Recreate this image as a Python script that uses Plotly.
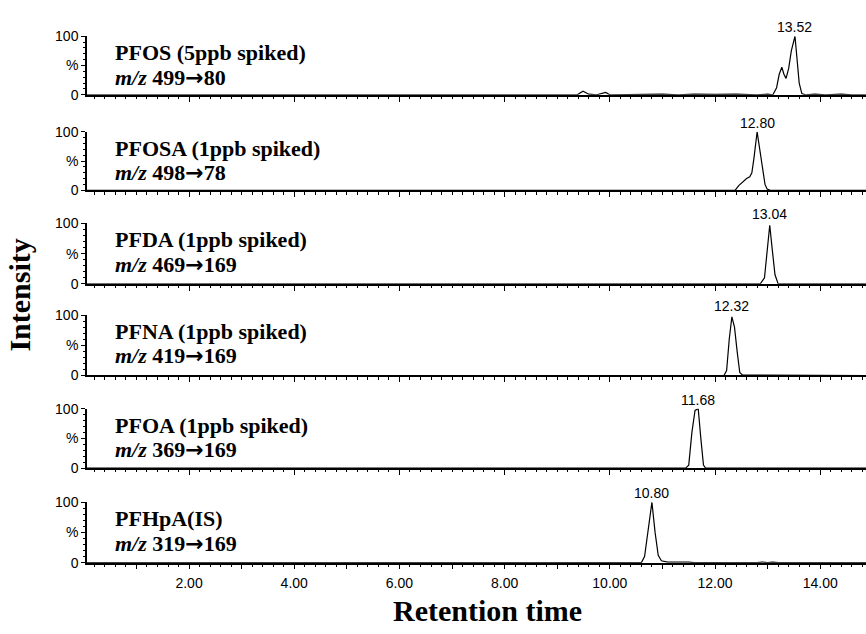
import plotly.graph_objects as go

W, H = 866, 634

# ---- data ----
names = ["PFOS (5ppb spiked)", "PFOSA (1ppb spiked)", "PFDA (1ppb spiked)",
         "PFNA (1ppb spiked)", "PFOA (1ppb spiked)", "PFHpA(IS)"]
transitions = [("499", "80"), ("498", "78"), ("469", "169"), ("419", "169"), ("369", "169"), ("319", "169")]
peak_rt = [13.52, 12.80, 13.04, 12.32, 11.68, 10.80]
peak_labels = ["13.52", "12.80", "13.04", "12.32", "11.68", "10.80"]

pfos_x = [0.06, 1.0, 2.0, 3.0, 4.0, 5.0, 6.0, 6.5, 7.0, 8.0, 9.0, 9.38, 9.49, 9.60, 9.75, 9.85, 9.92, 10.0, 10.5, 11.0,
          11.3, 11.6, 12.0, 12.4, 12.8, 13.0, 13.10, 13.17, 13.22, 13.27, 13.31, 13.35, 13.40, 13.45, 13.52,
          13.56, 13.60, 13.65, 13.72, 13.9, 14.1, 14.4, 14.6, 14.87]
pfos_y = [0, 0, 0, 0, 0, 0, 0, 0.5, 0, 0, 0, 0, 6, 1, 0, 3, 4, 0, 0.5, 1,
          0, 1, 0.5, 1, 0, 1, 0, 12, 35, 47, 35, 28, 45, 75, 100,
          60, 20, 2, 0, 1, 0, 1, 0, 0]

pfosa_x = [0.06, 2.0, 4.0, 6.0, 8.0, 10.0, 12.0, 12.38, 12.45, 12.53, 12.60, 12.66, 12.70, 12.74, 12.80,
           12.85, 12.90, 12.95, 12.99, 13.05, 14.0, 14.87]
pfosa_y = [0, 0, 0, 0, 0, 0, 0, 0, 8, 15, 20, 23, 30, 55, 100,
           70, 40, 10, 2, 0, 0, 0]

pfda_x = [0.06, 2.0, 4.0, 6.0, 8.0, 10.0, 12.0, 12.86, 12.94, 12.99, 13.04, 13.09, 13.14, 13.20, 14.0, 14.87]
pfda_y = [0, 0, 0, 0, 0, 0, 0, 0, 10, 55, 97, 55, 15, 0, 0, 0]

pfna_x = [0.06, 2.0, 4.0, 6.0, 8.0, 10.0, 12.0, 12.17, 12.22, 12.27, 12.32, 12.37, 12.42, 12.47, 12.52,
          12.70, 12.90, 12.95, 14.0, 14.87]
pfna_y = [0, 0, 0, 0, 0, 0, 0, 0, 8, 60, 97, 80, 40, 5, 1,
          1, 1, 0, 0, 0]

pfoa_x = [0.06, 2.0, 4.0, 6.0, 8.0, 10.0, 11.44, 11.50, 11.56, 11.62, 11.68, 11.73, 11.78, 11.82, 13.0, 14.0, 14.87]
pfoa_y = [0, 0, 0, 0, 0, 0, 0, 5, 60, 97, 100, 50, 5, 0, 0, 0, 0]

pfhpa_x = [0.06, 2.0, 4.0, 6.0, 8.0, 10.0, 10.60, 10.66, 10.72, 10.80, 10.86, 10.92, 10.98, 11.1, 11.5, 11.6,
           12.8, 12.9, 13.0, 13.1, 13.2, 13.9, 14.0, 14.1, 14.87]
pfhpa_y = [0, 0, 0, 0, 0, 0, 0, 10, 50, 100, 50, 12, 3, 1, 1, 0,
           0, 1, 0, 1, 0, 0, 1, 0, 0]

xs = [pfos_x, pfosa_x, pfda_x, pfna_x, pfoa_x, pfhpa_x]
ys = [pfos_y, pfosa_y, pfda_y, pfna_y, pfoa_y, pfhpa_y]

x_range = [0.06, 14.87]
x_major = list(range(1, 15))
x_ticktext = ["%.2f" % v if v % 2 == 0 else "" for v in x_major]
y_tickvals = [0, 50, 100]
y_ticktext = ["0", "%", "100"]

# ---- layout (pixel positions of 0 and 100 on each panel) ----
panel_top = [29, 127, 221, 315, 411, 507]
panel_zero = [89, 187, 283, 377, 472, 569]

fig = go.Figure()
layout = dict(
    width=W, height=H, margin=dict(l=0, r=0, t=0, b=0),
    paper_bgcolor="white", plot_bgcolor="white", showlegend=False,
    annotations=[],
)
y_tick_font = dict(family="Liberation Sans, Arial", size=14, color="black")
x_tick_font = dict(family="Liberation Sans, Arial", size=14, color="black")
serif = "Liberation Serif, Times New Roman, serif"
arrow = '<span style="font-family:DejaVu Sans">→</span>'

for i in range(6):
    n = i + 1
    xa = "x" if n == 1 else "x%d" % n
    ya = "y" if n == 1 else "y%d" % n
    fig.add_trace(go.Scatter(x=xs[i], y=ys[i], mode="lines", xaxis=xa, yaxis=ya,
                             line=dict(color="black", width=1.2), hoverinfo="skip"))
    dom = [1 - panel_zero[i] / H, 1 - panel_top[i] / H]
    layout["xaxis" if n == 1 else "xaxis%d" % n] = dict(
        domain=[87 / W, 1.0], range=x_range, anchor=ya,
        showgrid=False, zeroline=False, showline=True, linecolor="black", linewidth=1.5,
        ticks="outside", tickvals=x_major, ticktext=x_ticktext, ticklen=5, tickwidth=1,
        tickcolor="black", showticklabels=(n == 6), tickfont=x_tick_font, ticklabelstandoff=2,
        minor=dict(ticks="outside", dtick=0.2, ticklen=2.5, tickwidth=1, tickcolor="black"),
    )
    layout["yaxis" if n == 1 else "yaxis%d" % n] = dict(
        domain=dom, range=[0, 100], anchor=xa,
        showgrid=False, zeroline=False, showline=True, linecolor="black", linewidth=1.5,
        ticks="outside", tickvals=y_tickvals, ticktext=y_ticktext, ticklen=4, tickwidth=1,
        tickcolor="black", tickfont=y_tick_font,
        minor=dict(ticks="outside", dtick=10, ticklen=2, tickwidth=1, tickcolor="black"),
    )
    # peak label
    layout["annotations"].append(dict(
        x=peak_rt[i], y=100, xref=xa, yref=ya, text=peak_labels[i], showarrow=False,
        xanchor="center", yanchor="bottom", yshift=-1,
        font=dict(family="Liberation Sans, Arial", size=14, color="black")))
    # compound name
    layout["annotations"].append(dict(
        x=113 / W, y=1 - (panel_top[i] + 17) / H, xref="paper", yref="paper",
        text="<b>%s</b>" % names[i], showarrow=False, xanchor="left", yanchor="middle",
        font=dict(family=serif, size=22, color="black")))
    layout["annotations"].append(dict(
        x=113 / W, y=1 - (panel_top[i] + 42) / H, xref="paper", yref="paper",
        text="<b><i>m/z</i> %s%s%s</b>" % (transitions[i][0], arrow, transitions[i][1]),
        showarrow=False, xanchor="left", yanchor="middle",
        font=dict(family=serif, size=22, color="black")))

layout["annotations"].append(dict(
    x=20 / W, y=1 - 295 / H, xref="paper", yref="paper", text="<b>Intensity</b>",
    textangle=-90, showarrow=False, xanchor="center", yanchor="middle",
    font=dict(family=serif, size=30, color="black")))
layout["annotations"].append(dict(
    x=487 / W, y=1 - 618 / H, xref="paper", yref="paper", text="<b>Retention time</b>",
    showarrow=False, xanchor="center", yanchor="middle",
    font=dict(family=serif, size=30, color="black")))

fig.update_layout(**layout)
fig.write_html("out.html")
